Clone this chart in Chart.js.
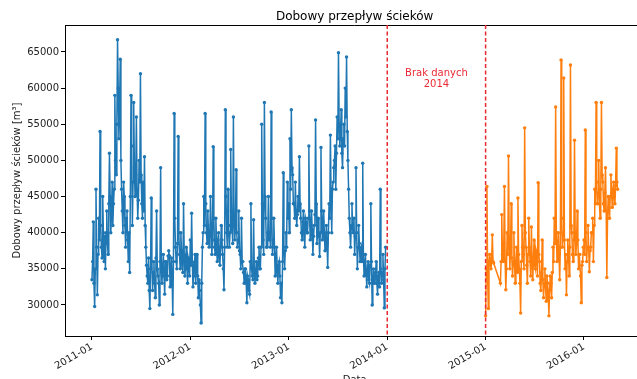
<!DOCTYPE html>
<html>
<head>
<meta charset="utf-8">
<script src="https://cdn.jsdelivr.net/npm/chart.js@4.4.1/dist/chart.umd.min.js"></script>
<style>
  html, body { margin: 0; padding: 0; overflow: hidden; background: #fff; }
  #clip { width: 637px; height: 379px; overflow: hidden; position: relative; }
  #wrap { width: 646px; height: 386px; position: absolute; left: 0; top: 0; }
</style>
</head>
<body>
<div id="clip"><div id="wrap"><canvas id="flowChart" width="646" height="386"></canvas></div></div>
<script>
const chartTitle = 'Dobowy przepływ ścieków';
const yTitle = 'Dobowy przepływ ścieków [m³]';
const xTitle = 'Data';
const stepDays = 2.5;
const blueStart = '2011-01-01';
const orangeStart = '2015-01-01';

const blueFlow = [
  33500, 36000, 41500, 33000, 29800, 35000, 46000, 38000, 31400, 37000, 42000, 39000, 54000, 41000, 38000, 36500, 45000, 40000, 36000, 39500,
  35000, 40000, 43000, 38500, 37000, 44000, 51000, 45000, 40000, 42500, 47000, 41000, 44000, 46000, 59000, 50000, 48000, 55000, 66700, 60000,
  53000, 57000, 64000, 50000, 46000, 43000, 40000, 47000, 45000, 41000, 38000, 42000, 43000, 39000, 36000, 40000, 34500, 45000, 59000, 52000,
  41000, 47000, 58000, 49000, 45000, 48000, 56000, 46000, 42000, 44500, 50000, 47000, 62000, 48000, 44000, 42000, 47000, 43000, 50500, 41000,
  38000, 35500, 34000, 33000, 36500, 32000, 29500, 35000, 44800, 36000, 32000, 34500, 36000, 33000, 31000, 36500, 43000, 35000, 34000, 33000,
  30000, 36000, 49000, 35000, 33000, 35500, 37000, 34000, 31500, 36000, 36000, 33500, 34000, 36800, 37500, 36800, 32500, 35000, 36500, 34000,
  28700, 36000, 56500, 42000, 38000, 36000, 35000, 38500, 53300, 40000, 37000, 35000, 40000, 37500, 36000, 34500, 44000, 37000, 34000, 35500,
  38000, 35000, 33000, 36500, 36000, 34000, 39000, 35500, 42700, 36000, 32500, 34000, 35000, 37000, 33000, 35000, 37000, 34000, 31000, 33500,
  32000, 30000, 27500, 33000, 38000, 40000, 45000, 41000, 56500, 44000, 40000, 38500, 43000, 40000, 38000, 39500, 45000, 41000, 37000, 39000,
  51900, 42000, 38000, 37000, 42000, 38500, 36000, 39000, 40000, 37000, 35500, 38000, 41000, 39000, 37000, 35000, 32100, 38000, 57000, 45000,
  40000, 38000, 46000, 41000, 38000, 40000, 51500, 43000, 41000, 38500, 56000, 42000, 39000, 41000, 48700, 40000, 38000, 39000, 43000, 37500,
  37000, 35000, 42000, 36000, 36000, 34500, 33000, 35000, 35000, 33000, 30300, 34000, 33500, 32000, 31500, 36000, 44000, 35000, 34000, 33500,
  41800, 35000, 33000, 34500, 36000, 33500, 34000, 36500, 38000, 35000, 35000, 38000, 55000, 44000, 39000, 37000, 58000, 45000, 42000, 38000,
  38000, 40000, 45000, 39000, 40000, 38000, 56700, 42000, 37000, 39000, 42000, 38000, 34000, 36500, 38000, 35000, 33000, 35500, 36000, 34000,
  31000, 33000, 30300, 36000, 48300, 38000, 35000, 37500, 40000, 38000, 47000, 42000, 44000, 40000, 53000, 46000, 57000, 49000, 48000, 44000,
  44000, 42000, 47000, 43000, 41000, 42500, 45000, 43000, 50500, 44000, 42000, 40000, 39000, 41500, 43000, 40500, 38000, 42000, 41500, 40000,
  40000, 42000, 52000, 43000, 39000, 41000, 43000, 40500, 37000, 39500, 41000, 42500, 55600, 44000, 38500, 40000, 42000, 39500, 36700, 40000,
  51800, 43000, 39000, 41500, 43000, 40000, 37500, 39000, 41000, 38500, 35200, 40000, 44000, 42000, 53500, 45000, 40000, 46000, 47000, 49000,
  50000, 52000, 46000, 51000, 56000, 53000, 64900, 55000, 52000, 54000, 57000, 51000, 49000, 53000, 55000, 52000, 60000, 56000, 64300, 54000,
  50000, 46000, 42000, 40000, 38000, 41000, 44000, 40500, 40000, 42000, 37000, 39500, 49000, 40000, 35000, 38000, 41000, 38500, 36000, 37500,
  38000, 36000, 49600, 37000, 34000, 35500, 37000, 34500, 32500, 35000, 36000, 33500, 33000, 35500, 44000, 36000, 30000, 33000, 35000, 33500,
  33000, 34500, 36000, 33000, 31500, 34000, 34500, 32500, 46000, 35000, 33000, 34500, 37000, 33500, 29600, 35000, 38000
];

const orangeFlow = [
  28500, 35000, 46400, 34000, 29500, 36000, 37000, 35500, 35000, 36500, 39700, 36000, 35800, null, null, null, null, null, null, null,
  null, null, 33000, 36000, 42500, 37000, 36000, 38500, 46400, 36000, 32100, 35000, 40000, 37000, 50600, 39000, 35000, 38000, 44000, 36500,
  34000, 36000, 40000, 35500, 33000, 36000, 38000, 34500, 44800, 37000, 35000, 33000, 28900, 36000, 41000, 38000, 37000, 35000, 54500, 40000,
  38000, 35500, 33000, 37000, 42000, 38000, 36000, 34000, 40800, 36500, 33500, 36000, 39000, 35500, 35000, 37500, 37000, 34000, 46900, 37000,
  36000, 33000, 32000, 34500, 39000, 33500, 31000, 33000, 35000, 32500, 30500, 34000, 33000, 31500, 28500, 32000, 34000, 33000, 31000, 34500,
  38000, 36000, 42000, 38500, 57400, 40000, 36000, 38000, 40000, 37000, 33500, 38000, 63900, 42000, 38000, 40000, 61400, 39000, 35000, 37000,
  31400, 36000, 39000, 37500, 34000, 38000, 63200, 41000, 40000, 37000, 36000, 39000, 52800, 40000, 37000, 38500, 43000, 39000, 35000, 37000,
  37000, 34000, 30300, 35500, 36000, 38000, 39000, 37000, 54200, 40000, 36000, 38000, 41000, 38000, 34600, 37500, 38000, 40000, 40000, 42000,
  36000, 41000, 46000, 44000, 58000, 47000, 44000, 45500, 50000, 44000, 42000, 46000, 58000, 48000, 47000, 44000, 43000, 45500, 49000, 43000,
  33800, 42000, 45000, 43500, 42000, 45000, 48000, 45500, 43500, 46000, 47000, 45000, 44000, 46500, 51700, 47000, 46000
];

const yearTicks = ['2011-01', '2012-01', '2013-01', '2014-01', '2015-01', '2016-01'];
const yTicks = [30000, 35000, 40000, 45000, 50000, 55000, 60000, 65000];
const gapStart = '2014-01-01';
const gapEnd = '2015-01-01';
const gapNote = ['Brak danych', '2014'];

const blueColor = '#1f77b4';
const orangeColor = '#ff7f0e';
const gapColor = '#ea2a33';

Chart.defaults.font.family = '"DejaVu Sans", sans-serif';
Chart.defaults.font.size = 10;
Chart.defaults.color = '#222';

// days since 2011-01-01
function dayOf(str) {
  let p = str.split('-').map(Number);
  return (Date.UTC(p[0], p[1] - 1, p[2] || 1) - Date.UTC(2011, 0, 1)) / 86400000;
}

function toPoints(start, values) {
  let d0 = dayOf(start);
  return values.map((v, i) => ({ x: d0 + i * stepDays, y: v }));
}

//top spine, gap lines, note and title
const extras = {
  id: 'extras',
  afterDraw(chart) {
    const ctx = chart.ctx;
    const a = chart.chartArea;
    const x = chart.scales.x;
    const y = chart.scales.y;
    ctx.save();
    ctx.strokeStyle = '#000';
    ctx.lineWidth = 1;
    ctx.beginPath();
    ctx.moveTo(a.left, a.top + 0.5);
    ctx.lineTo(a.right, a.top + 0.5);
    ctx.stroke();

    ctx.strokeStyle = gapColor;
    ctx.lineWidth = 1.5;
    ctx.setLineDash([4, 2.5]);
    [gapStart, gapEnd].forEach(d => {
      let px = x.getPixelForValue(dayOf(d));
      ctx.beginPath();
      ctx.moveTo(px, a.top);
      ctx.lineTo(px, a.bottom);
      ctx.stroke();
    });
    ctx.setLineDash([]);

    let mid = x.getPixelForValue((dayOf(gapStart) + dayOf(gapEnd)) / 2);
    ctx.fillStyle = gapColor;
    ctx.font = '10px "DejaVu Sans"';
    ctx.textAlign = 'center';
    ctx.textBaseline = 'middle';
    ctx.fillText(gapNote[0], mid, y.getPixelForValue(62000));
    ctx.fillText(gapNote[1], mid, y.getPixelForValue(60450));

    ctx.fillStyle = '#000';
    ctx.font = '12px "DejaVu Sans"';
    ctx.fillText(chartTitle, (a.left + a.right) / 2, 17);
    ctx.restore();
  }
};

const ctx = document.getElementById('flowChart').getContext('2d');

let options = {
  type: 'line',
  data: {
    datasets: [
      {
        data: toPoints(blueStart, blueFlow),
        borderColor: blueColor,
        backgroundColor: blueColor,
        borderWidth: 1.5,
        pointRadius: 1.7,
        pointBorderWidth: 0,
        pointHoverRadius: 0,
        spanGaps: true
      },
      {
        data: toPoints(orangeStart, orangeFlow),
        borderColor: orangeColor,
        backgroundColor: orangeColor,
        borderWidth: 1.5,
        pointRadius: 1.7,
        pointBorderWidth: 0,
        pointHoverRadius: 0,
        spanGaps: true
      }
    ]
  },
  options: {
    responsive: false,
    animation: false,
    layout: { padding: { top: 25, left: 0, right: 0, bottom: 0 } },
    plugins: {
      legend: { display: false },
      tooltip: { enabled: false }
    },
    scales: {
      x: {
        type: 'linear',
        min: -100,
        max: 2050,
        afterBuildTicks: scale => {
          scale.ticks = yearTicks.map(t => ({ value: dayOf(t) }));
        },
        afterFit: scale => { scale.height = 50; },
        ticks: {
          minRotation: 30,
          maxRotation: 30,
          padding: 1,
          autoSkip: false,
          callback: v => yearTicks.find(t => dayOf(t) === v) || ''
        },
        grid: { drawOnChartArea: false, tickLength: 4, color: '#000' },
        border: { color: '#000' },
        title: { display: true, text: xTitle, padding: { top: 4, bottom: 0 } }
      },
      y: {
        min: 25710,
        max: 68730,
        afterBuildTicks: scale => {
          scale.ticks = yTicks.map(v => ({ value: v }));
        },
        afterFit: scale => { scale.width = 65; },
        ticks: { padding: 2, callback: v => String(v) },
        grid: { drawOnChartArea: false, tickLength: 4, color: '#000' },
        border: { color: '#000' },
        title: { display: true, text: yTitle, padding: { top: 11, bottom: 0 } }
      }
    }
  },
  plugins: [extras]
};

const flowChart = new Chart(ctx, options);
</script>
</body>
</html>
